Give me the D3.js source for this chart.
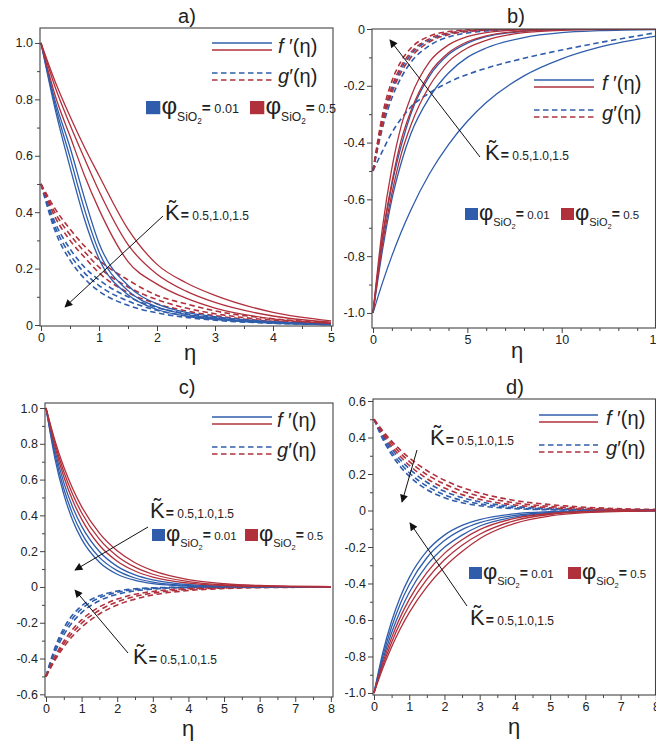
<!DOCTYPE html>
<html lang="en">
  <head>
    <meta charset="UTF-8" />
    <title>f'(eta) and g'(eta) profiles</title>
    <style>
      body { margin: 0; background: #fff; }
      svg { font-family: "Liberation Sans", Arial, sans-serif; }
    </style>
    <script src="https://cdn.jsdelivr.net/npm/d3@7"></script>
  </head>
  <body>
    <svg width="656" height="743"></svg>
    <script>
      // curves for K~ = 0.5, 1.0, 1.5 (one row each), blue: phi=0.01, red: phi=0.5
      var etaA = [0, 0.25, 0.5, 0.75, 1, 1.5, 2, 2.5, 3, 4, 5];
      var fA_blue = [
        [1, 0.79, 0.63, 0.45, 0.29, 0.14, 0.075, 0.045, 0.03, 0.012, 0.003],
        [1, 0.775, 0.595, 0.41, 0.26, 0.122, 0.064, 0.038, 0.024, 0.009, 0.002],
        [1, 0.76, 0.56, 0.375, 0.235, 0.107, 0.055, 0.032, 0.02, 0.007, 0.001]
      ];
      var fA_red = [
        [1, 0.86, 0.74, 0.63, 0.53, 0.34, 0.215, 0.15, 0.105, 0.045, 0.015],
        [1, 0.84, 0.71, 0.59, 0.475, 0.285, 0.18, 0.12, 0.08, 0.032, 0.01],
        [1, 0.81, 0.67, 0.53, 0.41, 0.225, 0.145, 0.095, 0.06, 0.022, 0.006]
      ];
      var gA_blue = [
        [0.5, 0.36, 0.27, 0.205, 0.16, 0.1, 0.062, 0.04, 0.026, 0.011, 0.004],
        [0.5, 0.345, 0.25, 0.185, 0.14, 0.085, 0.052, 0.033, 0.021, 0.008, 0.003],
        [0.5, 0.33, 0.23, 0.165, 0.12, 0.07, 0.043, 0.027, 0.017, 0.006, 0.002]
      ];
      var gA_red = [
        [0.5, 0.41, 0.34, 0.28, 0.23, 0.16, 0.105, 0.075, 0.05, 0.022, 0.008],
        [0.5, 0.395, 0.32, 0.26, 0.205, 0.135, 0.09, 0.06, 0.04, 0.017, 0.006],
        [0.5, 0.38, 0.3, 0.24, 0.185, 0.115, 0.075, 0.05, 0.033, 0.013, 0.004]
      ];

      var etaB = [0, 0.5, 1, 1.5, 2, 3, 4, 5, 6, 8, 10, 12, 15];
      var fB_blue = [
        [-1, -0.894, -0.799, -0.714, -0.638, -0.509, -0.407, -0.325, -0.259, -0.165, -0.105, -0.064, -0.025],
        [-1, -0.78, -0.6, -0.47, -0.37, -0.24, -0.155, -0.1, -0.067, -0.03, -0.013, -0.006, -0.002],
        [-1, -0.74, -0.55, -0.41, -0.3, -0.165, -0.09, -0.05, -0.027, -0.008, -0.0025, -0.0007, 0]
      ];
      var fB_red = [
        [-1, -0.76, -0.58, -0.44, -0.34, -0.2, -0.115, -0.067, -0.04, -0.013, -0.005, -0.002, 0],
        [-1, -0.73, -0.54, -0.39, -0.29, -0.156, -0.084, -0.045, -0.024, -0.007, -0.002, -0.0006, 0],
        [-1, -0.7, -0.49, -0.34, -0.24, -0.115, -0.056, -0.027, -0.013, -0.003, -0.001, 0, 0]
      ];
      var gB_blue = [
        [-0.5, -0.43, -0.365, -0.315, -0.275, -0.225, -0.188, -0.16, -0.138, -0.103, -0.074, -0.048, -0.013],
        [-0.5, -0.349, -0.243, -0.17, -0.118, -0.058, -0.028, -0.014, -0.0067, -0.0016, -0.0004, -0.0001, 0],
        [-0.5, -0.327, -0.214, -0.14, -0.091, -0.039, -0.017, -0.007, -0.003, -0.0006, 0, 0, 0]
      ];
      var gB_red = [
        [-0.5, -0.335, -0.225, -0.151, -0.101, -0.045, -0.02, -0.009, -0.004, -0.0008, -0.0002, 0, 0],
        [-0.5, -0.319, -0.203, -0.13, -0.083, -0.034, -0.014, -0.006, -0.002, -0.0004, 0, 0, 0],
        [-0.5, -0.303, -0.184, -0.112, -0.068, -0.025, -0.009, -0.003, -0.001, 0, 0, 0, 0]
      ];

      var etaC = [0, 0.25, 0.5, 0.75, 1, 1.5, 2, 2.5, 3, 4, 5, 6, 8];
      var fC_blue = [
        [1, 0.763, 0.583, 0.445, 0.34, 0.198, 0.115, 0.067, 0.039, 0.013, 0.005, 0.002, 0],
        [1, 0.741, 0.549, 0.407, 0.301, 0.165, 0.091, 0.05, 0.027, 0.008, 0.002, 0.001, 0],
        [1, 0.719, 0.517, 0.372, 0.267, 0.138, 0.071, 0.037, 0.019, 0.005, 0.001, 0, 0]
      ];
      var fC_red = [
        [1, 0.819, 0.67, 0.549, 0.449, 0.301, 0.202, 0.135, 0.091, 0.041, 0.018, 0.008, 0.002],
        [1, 0.803, 0.644, 0.517, 0.415, 0.267, 0.172, 0.111, 0.071, 0.03, 0.012, 0.005, 0.001],
        [1, 0.785, 0.616, 0.483, 0.379, 0.233, 0.144, 0.089, 0.055, 0.021, 0.008, 0.003, 0]
      ];
      var gC_blue = [
        [-0.5, -0.366, -0.268, -0.196, -0.143, -0.077, -0.041, -0.022, -0.012, -0.003, -0.001, 0, 0],
        [-0.5, -0.352, -0.248, -0.175, -0.123, -0.061, -0.03, -0.015, -0.008, -0.002, 0, 0, 0],
        [-0.5, -0.34, -0.23, -0.156, -0.106, -0.049, -0.023, -0.01, -0.005, -0.001, 0, 0, 0]
      ];
      var gC_red = [
        [-0.5, -0.41, -0.335, -0.274, -0.225, -0.151, -0.101, -0.068, -0.045, -0.02, -0.009, -0.004, -0.001],
        [-0.5, -0.4, -0.319, -0.255, -0.203, -0.13, -0.083, -0.053, -0.034, -0.014, -0.006, -0.002, 0],
        [-0.5, -0.389, -0.303, -0.236, -0.184, -0.112, -0.068, -0.041, -0.025, -0.009, -0.003, -0.001, 0]
      ];

      var etaD = [0, 0.25, 0.5, 0.75, 1, 1.5, 2, 2.5, 3, 4, 5, 6, 8];
      var fD_blue = [
        [-1, -0.819, -0.67, -0.549, -0.449, -0.301, -0.202, -0.135, -0.085, -0.035, -0.014, -0.005, 0],
        [-1, -0.799, -0.638, -0.509, -0.407, -0.259, -0.165, -0.105, -0.067, -0.027, -0.011, -0.0045, 0],
        [-1, -0.779, -0.607, -0.472, -0.368, -0.223, -0.135, -0.082, -0.05, -0.018, -0.0067, -0.0025, 0]
      ];
      var fD_red = [
        [-1, -0.865, -0.748, -0.647, -0.56, -0.419, -0.31, -0.225, -0.155, -0.07, -0.03, -0.012, 0],
        [-1, -0.85, -0.723, -0.614, -0.522, -0.377, -0.27, -0.19, -0.13, -0.055, -0.022, -0.008, 0],
        [-1, -0.835, -0.698, -0.583, -0.487, -0.34, -0.235, -0.16, -0.105, -0.043, -0.016, -0.006, 0]
      ];
      var gD_blue = [
        [0.5, 0.411, 0.339, 0.278, 0.229, 0.155, 0.105, 0.071, 0.048, 0.022, 0.01, 0.005, 0.001],
        [0.5, 0.401, 0.322, 0.259, 0.207, 0.134, 0.086, 0.055, 0.036, 0.015, 0.006, 0.003, 0],
        [0.5, 0.391, 0.306, 0.24, 0.188, 0.115, 0.07, 0.043, 0.026, 0.01, 0.004, 0.001, 0]
      ];
      var gD_red = [
        [0.5, 0.436, 0.38, 0.331, 0.289, 0.219, 0.166, 0.126, 0.096, 0.055, 0.032, 0.018, 0.006],
        [0.5, 0.428, 0.367, 0.314, 0.269, 0.197, 0.145, 0.106, 0.078, 0.042, 0.022, 0.012, 0.003],
        [0.5, 0.42, 0.352, 0.296, 0.248, 0.175, 0.123, 0.087, 0.061, 0.03, 0.015, 0.007, 0.002]
      ];

      var kappaText = "0.5,1.0,1.5";
      var phiValues = ["0.01", "0.5"];

      var blue = "#2f5dab";
      var red = "#b0303c";
      var ink = "#222";

      var panels = [
        {
          id: "a", eta: etaA, f: [fA_blue, fA_red], g: [gA_blue, gA_red],
          l: 40, r: 333, t: 28, b: 326, xDom: [-0.017, 5.034], yDom: [-0.0035, 1.053],
          xTicks: [0, 1, 2, 3, 4, 5], xStep: 0.5,
          yTicks: [0, 0.2, 0.4, 0.6, 0.8, 1.0], yStep: 0.1,
          title: [187, 23], etaPos: [190, 360],
          leg: { x1: 212, x2: 272, y: 43, tx: 278 },
          phi: { x: [146, 250], y: 101, k: 1.1 },
          kap: [{ x: 165, y: 220, a: [163, 216, 65, 307] }]
        },
        {
          id: "b", eta: etaB, f: [fB_blue, fB_red], g: [gB_blue, gB_red],
          l: 372, r: 655.5, t: 29, b: 328, xDom: [-0.053, 14.97], yDom: [-1.053, 0],
          xTicks: [0, 5, 10, 15], xStep: 1,
          yTicks: [0, -0.2, -0.4, -0.6, -0.8, -1.0], yStep: 0.1,
          title: [516, 23], etaPos: [517, 358],
          leg: { x1: 534, x2: 594, y: 80, tx: 602 },
          phi: { x: [465, 561], y: 208, k: 1.0 },
          kap: [{ x: 485, y: 160, a: [480, 157, 390, 40] }]
        },
        {
          id: "c", eta: etaC, f: [fC_blue, fC_red], g: [gC_blue, gC_red],
          l: 45, r: 333, t: 403, b: 697, xDom: [-0.028, 8.06], yDom: [-0.615, 1.028],
          xTicks: [0, 1, 2, 3, 4, 5, 6, 7, 8], xStep: 0.5,
          yTicks: [-0.6, -0.4, -0.2, 0, 0.2, 0.4, 0.6, 0.8, 1.0], yStep: 0.1,
          title: [187, 394], etaPos: [188, 736],
          leg: { x1: 212, x2: 272, y: 417, tx: 277 },
          phi: { x: [152, 245], y: 529, k: 1.0 },
          kap: [
            { x: 150, y: 518, a: [148, 527, 75, 570] },
            { x: 133, y: 664, a: [128, 653, 75, 590] }
          ]
        },
        {
          id: "d", eta: etaD, f: [fD_blue, fD_red], g: [gD_blue, gD_red],
          l: 373, r: 655.5, t: 399, b: 695, xDom: [-0.028, 7.99], yDom: [-1.011, 0.611],
          xTicks: [0, 1, 2, 3, 4, 5, 6, 7, 8], xStep: 0.5,
          yTicks: [-1.0, -0.8, -0.6, -0.4, -0.2, 0, 0.2, 0.4, 0.6], yStep: 0.1,
          title: [515, 394], etaPos: [514, 734],
          leg: { x1: 539, x2: 598, y: 415, tx: 606 },
          phi: { x: [469, 568], y: 567, k: 1.0 },
          kap: [
            { x: 430, y: 445, a: [417, 450, 402, 502] },
            { x: 470, y: 625, a: [467, 606, 410, 523] }
          ]
        }
      ];

      var svg = d3.select("svg");

      svg
        .append("defs")
        .append("marker")
        .attr("id", "head")
        .attr("viewBox", "0 0 10 10")
        .attr("refX", 9)
        .attr("refY", 5)
        .attr("markerWidth", 11)
        .attr("markerHeight", 8)
        .attr("markerUnits", "userSpaceOnUse")
        .attr("orient", "auto")
        .append("path")
        .attr("d", "M0,0L10,5L0,10z")
        .attr("fill", "#111");

      function ticksBetween(dom, step) {
        var lo = Math.ceil(Math.min(dom[0], dom[1]) / step - 1e-9);
        var hi = Math.floor(Math.max(dom[0], dom[1]) / step + 1e-9);
        return d3.range(lo, hi + 1).map((i) => +(i * step).toFixed(3));
      }

      function yFormat(d) {
        return d === 0 ? "0" : d.toFixed(1);
      }

      function drawPanel(p) {
        var g = svg.append("g");
        var x = d3.scaleLinear().domain(p.xDom).range([p.l, p.r]);
        var y = d3.scaleLinear().domain(p.yDom).range([p.b, p.t]);

        svg
          .select("defs")
          .append("clipPath")
          .attr("id", "clip-" + p.id)
          .append("rect")
          .attr("x", p.l)
          .attr("y", p.t)
          .attr("width", p.r - p.l)
          .attr("height", p.b - p.t);

        var line = d3
          .line()
          .curve(d3.curveMonotoneX)
          .x((d) => x(d[0]))
          .y((d) => y(d[1]));

        var plot = g.append("g").attr("clip-path", "url(#clip-" + p.id + ")");
        var colors = [blue, red];
        [
          { sets: p.g, dash: "5.5,3.5" },
          { sets: p.f, dash: null }
        ].forEach((grp) => {
          grp.sets.forEach((set, ci) => {
            set.forEach((vals) => {
              plot
                .append("path")
                .attr("d", line(p.eta.map((e, i) => [e, vals[i]])))
                .attr("fill", "none")
                .attr("stroke", colors[ci])
                .attr("stroke-width", grp.dash ? 1.6 : 1.3)
                .attr("stroke-dasharray", grp.dash);
            });
          });
        });

        // axes: major ticks with labels, minor ticks without
        var xMinor = ticksBetween(p.xDom, p.xStep).filter((v) => p.xTicks.indexOf(v) < 0);
        var yMinor = ticksBetween(p.yDom, p.yStep).filter(
          (v) => !p.yTicks.some((t) => Math.abs(t - v) < 1e-6)
        );

        var ax = g.append("g").attr("transform", "translate(0," + p.b + ")");
        ax.call(d3.axisBottom(x).tickValues(p.xTicks).tickSize(5).tickPadding(2).tickFormat(d3.format("d")));
        ax.append("g").call(d3.axisBottom(x).tickValues(xMinor).tickSize(3).tickFormat(""));

        var ay = g.append("g").attr("transform", "translate(" + p.l + ",0)");
        ay.call(d3.axisLeft(y).tickValues(p.yTicks).tickSize(5).tickPadding(2).tickFormat(yFormat));
        ay.append("g").call(d3.axisLeft(y).tickValues(yMinor).tickSize(3).tickFormat(""));

        g.selectAll(".domain").remove();
        g.selectAll(".tick line").attr("stroke", "#444");
        g.selectAll(".tick text")
          .attr("font-size", 12.5)
          .attr("fill", ink)
          .attr("font-family", "Liberation Sans, Arial, sans-serif");

        g.append("rect")
          .attr("x", p.l)
          .attr("y", p.t)
          .attr("width", p.r - p.l)
          .attr("height", p.b - p.t)
          .attr("fill", "none")
          .attr("stroke", "#444")
          .attr("stroke-width", 1.1);

        g.append("text")
          .attr("x", p.title[0])
          .attr("y", p.title[1])
          .attr("text-anchor", "middle")
          .attr("font-size", 20)
          .attr("fill", ink)
          .text(p.id + ")");

        g.append("text")
          .attr("x", p.etaPos[0])
          .attr("y", p.etaPos[1])
          .attr("text-anchor", "middle")
          .attr("font-size", 22)
          .attr("fill", ink)
          .text("η");

        // line legend
        var lg = p.leg;
        [
          [lg.y, blue, null],
          [lg.y + 7, red, null],
          [lg.y + 30, blue, "5.5,3.5"],
          [lg.y + 37, red, "5.5,3.5"]
        ].forEach((row) => {
          g.append("line")
            .attr("x1", lg.x1)
            .attr("x2", lg.x2)
            .attr("y1", row[0])
            .attr("y2", row[0])
            .attr("stroke", row[1])
            .attr("stroke-width", 1.6)
            .attr("stroke-dasharray", row[2]);
        });
        var ft = g.append("text").attr("x", lg.tx).attr("y", lg.y + 10).attr("font-size", 20).attr("fill", ink);
        ft.append("tspan").attr("font-style", "italic").text("f");
        ft.append("tspan").text(" ′(η)");
        var gt = g.append("text").attr("x", lg.tx).attr("y", lg.y + 40).attr("font-size", 20).attr("fill", ink);
        gt.append("tspan").attr("font-style", "italic").text("g");
        gt.append("tspan").text("′(η)");

        // phi legend
        var k = p.phi.k;
        [blue, red].forEach((c, i) => {
          var sx = p.phi.x[i];
          var sy = p.phi.y;
          g.append("rect")
            .attr("x", sx)
            .attr("y", sy)
            .attr("width", 13 * k)
            .attr("height", 12 * k)
            .attr("fill", c);
          var t = g.append("text")
            .attr("x", sx + 14 * k)
            .attr("y", sy + 12 * k)
            .attr("fill", ink);
          t.append("tspan").attr("font-size", 22 * k).text("φ");
          t.append("tspan").attr("font-size", 11 * k).attr("dy", 6 * k).text("SiO");
          t.append("tspan").attr("font-size", 7.5 * k).attr("dy", 3 * k).text("2");
          t.append("tspan").attr("font-size", 14 * k).attr("font-weight", "bold").attr("dy", -10.5 * k).text("=");
          t.append("tspan").attr("font-size", 11.5 * k).text(" " + phiValues[i]);
        });

        // K~ annotations with arrows
        p.kap.forEach((kp) => {
          var t = g.append("text").attr("x", kp.x).attr("y", kp.y).attr("fill", ink);
          t.append("tspan").attr("font-size", 22).text("K\u0303");
          t.append("tspan").attr("font-size", 14).attr("font-weight", "bold").attr("dx", 1).text("=");
          t.append("tspan").attr("font-size", 12).text(" " + kappaText);
          g.append("line")
            .attr("x1", kp.a[0])
            .attr("y1", kp.a[1])
            .attr("x2", kp.a[2])
            .attr("y2", kp.a[3])
            .attr("stroke", "#111")
            .attr("stroke-width", 1)
            .attr("marker-end", "url(#head)");
        });
      }

      panels.forEach(drawPanel);
    </script>
  </body>
</html>
